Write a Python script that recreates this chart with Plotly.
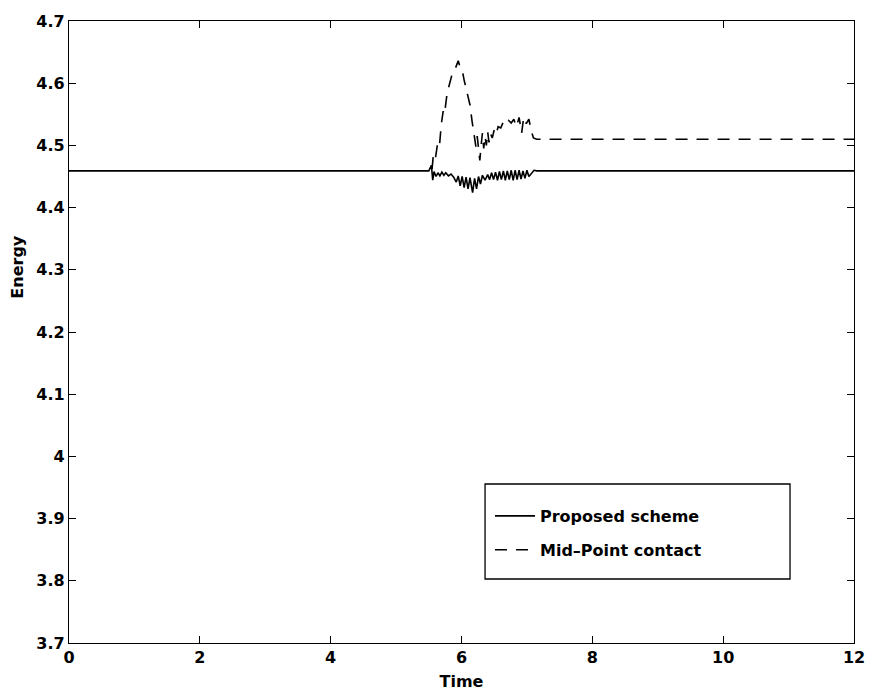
import plotly.graph_objects as go

# ---- data ----
solid_t = [0.0, 5.50, 5.54, 5.56, 5.58, 5.61, 5.64, 5.67, 5.70, 5.73, 5.76, 5.80, 5.84, 5.88,
           5.92, 5.95, 5.98, 6.01, 6.04, 6.07, 6.10, 6.13, 6.17, 6.20, 6.23, 6.26, 6.29, 6.32,
           6.36, 6.40, 6.43, 6.46, 6.49, 6.52, 6.55, 6.58, 6.61, 6.64, 6.67, 6.70, 6.73, 6.76,
           6.79, 6.82, 6.85, 6.88, 6.91, 6.94, 6.97, 7.00, 7.03, 7.07, 7.11, 7.15, 12.0]
solid_e = [4.459, 4.459, 4.468, 4.444, 4.458, 4.450, 4.456, 4.451, 4.457, 4.452, 4.456, 4.451, 4.454, 4.449,
           4.441, 4.451, 4.435, 4.450, 4.432, 4.449, 4.430, 4.448, 4.424, 4.447, 4.430, 4.450, 4.438, 4.452,
           4.444, 4.453, 4.445, 4.456, 4.445, 4.457, 4.444, 4.458, 4.445, 4.459, 4.444, 4.459, 4.445, 4.460,
           4.444, 4.460, 4.445, 4.460, 4.446, 4.459, 4.447, 4.460, 4.450, 4.455, 4.460, 4.459, 4.459]

dash_t = [5.55, 5.57, 5.60, 5.63, 5.66, 5.69, 5.72, 5.74, 5.78, 5.82, 5.86, 5.90, 5.95, 5.98,
          6.01, 6.04, 6.07, 6.10, 6.13, 6.16, 6.18, 6.20, 6.22, 6.24, 6.26, 6.28, 6.30, 6.32,
          6.34, 6.36, 6.38, 6.40, 6.42, 6.44, 6.47, 6.50, 6.53, 6.56, 6.60, 6.64, 6.68, 6.72,
          6.76, 6.80, 6.84, 6.88, 6.92, 6.95, 6.99, 7.03, 7.07, 7.10, 7.15, 12.0]
dash_e = [4.462, 4.485, 4.478, 4.500, 4.495, 4.533, 4.555, 4.550, 4.584, 4.600, 4.616, 4.622, 4.636, 4.625,
          4.622, 4.605, 4.592, 4.575, 4.565, 4.540, 4.528, 4.512, 4.498, 4.515, 4.490, 4.476, 4.500, 4.520,
          4.495, 4.515, 4.500, 4.522, 4.505, 4.520, 4.512, 4.525, 4.518, 4.530, 4.528, 4.538, 4.534, 4.540,
          4.536, 4.542, 4.530, 4.545, 4.520, 4.545, 4.535, 4.542, 4.522, 4.512, 4.510, 4.510]

x_ticks = [0, 2, 4, 6, 8, 10, 12]
y_ticks = [3.7, 3.8, 3.9, 4.0, 4.1, 4.2, 4.3, 4.4, 4.5, 4.6, 4.7]
y_tick_text = ["3.7", "3.8", "3.9", "4", "4.1", "4.2", "4.3", "4.4", "4.5", "4.6", "4.7"]

FONT = dict(family="DejaVu Sans", size=16, color="black", weight="bold")

fig = go.Figure()
fig.add_trace(go.Scatter(x=solid_t, y=solid_e, mode="lines", name="Proposed scheme",
                         legendgroup="a", line=dict(color="black", width=1.6)))
fig.add_trace(go.Scatter(x=dash_t, y=dash_e, mode="lines", name="Mid\u2013Point contact",
                         legendgroup="b", line=dict(color="black", width=1.6, dash="12px,9px")))

axis_common = dict(showline=True, linecolor="black", linewidth=1.3, mirror="ticks",
                   ticks="inside", ticklen=7, tickwidth=1.2, tickcolor="black",
                   showgrid=False, zeroline=False, automargin=False,
                   tickfont=FONT)

fig.update_xaxes(range=[0, 12], tickvals=x_ticks, ticktext=[str(v) for v in x_ticks],
                 title=dict(text="Time", font=FONT, standoff=9),
                 **axis_common)
fig.update_yaxes(range=[3.7, 4.7], tickvals=y_ticks, ticktext=y_tick_text,
                 **axis_common)

fig.update_layout(
    width=869, height=696,
    margin=dict(l=69, r=15, t=21, b=53),
    paper_bgcolor="white", plot_bgcolor="white",
    showlegend=True,
    legend=dict(x=0.5363, y=0.2315, xanchor="left", yanchor="top",
                bgcolor="rgba(255,255,255,0)", borderwidth=0, itemwidth=40,
                tracegroupgap=10, traceorder="grouped",
                font=FONT),
    annotations=[dict(text="Energy", textangle=-90, xref="paper", yref="paper",
                      x=-0.065, y=0.605, xanchor="center", yanchor="middle",
                      showarrow=False, font=FONT)],
    shapes=[dict(type="rect", xref="paper", yref="paper", x0=0.530, x1=0.9185,
                 y0=0.1029, y1=0.2556, line=dict(color="black", width=1.3),
                 fillcolor="rgba(0,0,0,0)", layer="above")],
)

fig.write_html("out.html", config={"displayModeBar": False},
               post_script="document.body.style.margin='0';document.body.style.overflow='hidden';")
